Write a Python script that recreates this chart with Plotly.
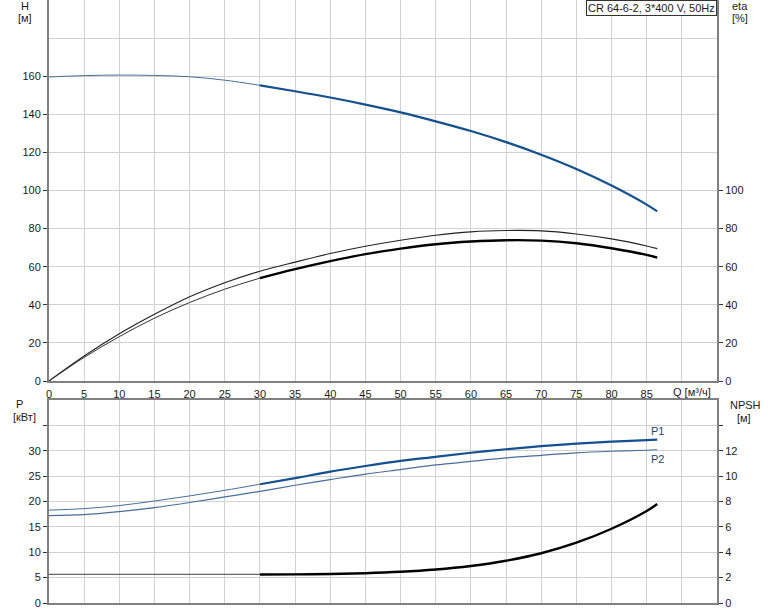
import plotly.graph_objects as go

# ---- data ----
Q = [0, 5, 10, 15, 20, 25, 30, 35, 40, 45, 50, 55, 60, 65, 70, 75, 80, 85, 86.5]
H = [159.6, 160.3, 160.6, 160.4, 159.7, 157.9, 155.2, 152.1, 148.8, 145.1, 141.0,
     136.3, 131.2, 125.4, 118.8, 111.3, 102.6, 92.6, 89.0]
ETA_PUMP = [0, 13.1, 24.8, 35.0, 44.2, 51.6, 57.6, 62.4, 66.9, 70.7, 73.9, 76.5,
            78.3, 79.0, 78.8, 77.2, 74.6, 70.9, 69.5]
ETA_TOTAL = [0, 12.4, 23.3, 33.0, 41.2, 48.2, 54.0, 58.7, 62.9, 66.6, 69.5, 71.8,
             73.2, 73.9, 73.7, 72.3, 69.7, 66.2, 64.8]
P1 = [18.3, 18.6, 19.2, 20.1, 21.1, 22.2, 23.4, 24.6, 25.9, 27.0, 28.0, 28.8,
      29.6, 30.3, 30.9, 31.4, 31.8, 32.1, 32.2]
P2 = [17.2, 17.4, 18.0, 18.8, 19.8, 20.9, 22.0, 23.2, 24.3, 25.4, 26.3, 27.2,
      27.9, 28.6, 29.1, 29.6, 29.9, 30.1, 30.2]
NPSH = [2.25, 2.25, 2.25, 2.25, 2.25, 2.25, 2.25, 2.26, 2.29, 2.35, 2.46, 2.64,
        2.92, 3.33, 3.92, 4.75, 5.85, 7.25, 7.8]

X_TICKS = list(range(0, 90, 5))
H_TICKS = list(range(0, 180, 20))
ETA_TICKS = list(range(0, 120, 20))
P_TICKS = list(range(0, 40, 5))
P_TICKTEXT = [str(v) for v in P_TICKS[:-1]] + [""]
NPSH_TICKS = list(range(0, 16, 2))
NPSH_TICKTEXT = [str(v) for v in NPSH_TICKS[:-1]] + [""]
TITLE = "CR 64-6-2, 3*400 V, 50Hz"

SPLIT = Q.index(30)

BLUE = "#12508f"
BLUE_THIN = "#4a6d9c"
GRID = "#d2d2d2"
AXIS = "#808080"
TXT = "#1a1a1a"
FONT = "Liberation Sans"

fig = go.Figure()

def add(x, y, xa, ya, color, width):
    fig.add_trace(go.Scatter(x=x, y=y, xaxis=xa, yaxis=ya, mode="lines",
                             line=dict(color=color, width=width, shape="spline",
                                       smoothing=1.0),
                             hoverinfo="skip", showlegend=False))

# H curve
add(Q[:SPLIT + 1], H[:SPLIT + 1], "x", "y", BLUE_THIN, 1)
add(Q[SPLIT:], H[SPLIT:], "x", "y", BLUE, 2.2)
# efficiency curves
add(Q, ETA_PUMP, "x", "y2", "#222222", 1.1)
add(Q[:SPLIT + 1], ETA_TOTAL[:SPLIT + 1], "x", "y2", "#333333", 1)
add(Q[SPLIT:], ETA_TOTAL[SPLIT:], "x", "y2", "#000000", 2.4)
# power curves
add(Q[:SPLIT + 1], P1[:SPLIT + 1], "x2", "y3", BLUE_THIN, 1)
add(Q[SPLIT:], P1[SPLIT:], "x2", "y3", BLUE, 2.2)
add(Q, P2, "x2", "y3", BLUE_THIN, 1.2)
# NPSH
add(Q[:SPLIT + 1], NPSH[:SPLIT + 1], "x2", "y4", "#666666", 1.2)
add(Q[SPLIT:], NPSH[SPLIT:], "x2", "y4", "#000000", 2.4)

L, R, T, B = 49, 717.5, 0, 603
W, HGT = 774, 611
TOP_BOTTOM_PX = 381
BOT_TOP_PX = 400
pw = R - L
ph = B - T

def px(xp):
    return (xp - L) / pw

def py(yp):
    return (B - yp) / ph

tickfont = dict(family=FONT, size=11, color=TXT)

common_x = dict(range=[0, 95], tickvals=X_TICKS, ticks="", showgrid=True,
                gridcolor=GRID, gridwidth=1, zeroline=False, showline=True,
                linecolor=AXIS, linewidth=2, tickfont=tickfont, automargin=False,
                minor=dict(dtick=5, tick0=0, showgrid=True, gridcolor=GRID, ticks=""))

fig.update_layout(
    width=W, height=HGT,
    margin=dict(l=L, r=W - R, t=T, b=HGT - B, autoexpand=False),
    paper_bgcolor="white", plot_bgcolor="white",
    showlegend=False,
    font=dict(family=FONT, size=11, color=TXT),
    xaxis=dict(common_x, domain=[0, 1], anchor="y", ticklabelstandoff=2),
    xaxis2=dict(common_x, domain=[0, 1], anchor="y3", matches="x",
                showticklabels=False, mirror=True),
    yaxis=dict(domain=[py(TOP_BOTTOM_PX), 1], range=[0, 200], tickvals=H_TICKS,
               ticks="outside", ticklen=4, tickcolor="#333", showgrid=True,
               gridcolor=GRID, zeroline=False, showline=True, linecolor=AXIS,
               linewidth=2, tickfont=tickfont, automargin=False,
               minor=dict(dtick=20, tick0=0, showgrid=True, gridcolor=GRID, ticks="")),
    yaxis2=dict(overlaying="y", side="right", anchor="x", range=[0, 200],
                tickvals=ETA_TICKS, ticks="outside", ticklen=4, tickcolor="#333",
                showgrid=False, zeroline=False, showline=True, linecolor=AXIS,
                linewidth=2, tickfont=tickfont, automargin=False),
    yaxis3=dict(domain=[0, py(BOT_TOP_PX)], anchor="x2", range=[0, 40],
                tickvals=P_TICKS, ticktext=P_TICKTEXT, ticks="outside", ticklen=4,
                tickcolor="#333", showgrid=True, gridcolor=GRID, zeroline=False,
                showline=True, linecolor=AXIS, linewidth=2, tickfont=tickfont,
                automargin=False),
    yaxis4=dict(overlaying="y3", side="right", anchor="x2", range=[0, 16],
                tickvals=NPSH_TICKS, ticktext=NPSH_TICKTEXT, ticks="outside",
                ticklen=4, tickcolor="#333", showgrid=False, zeroline=False,
                showline=True, linecolor=AXIS, linewidth=2, tickfont=tickfont,
                automargin=False),
)

def label(text, xp, yp, color=TXT, **kw):
    fig.add_annotation(text=text, xref="paper", yref="paper", x=px(xp), y=py(yp),
                       xanchor="center", yanchor="middle", showarrow=False,
                       font=dict(family=FONT, size=11, color=color), **kw)

label("H", 25, 6)
label("[м]", 25, 18)
label("eta", 741, 6)
label("[%]", 741, 18)
label("P", 19, 404)
label("[кВт]", 24, 417)
label("NPSH", 746, 405)
label("[м]", 745, 418)

fig.add_annotation(text="Q [м³/ч]", xref="paper", yref="paper", x=px(713),
                   y=py(392), xanchor="right", yanchor="middle", showarrow=False,
                   font=dict(family=FONT, size=11, color=TXT))

# box title
fig.add_annotation(text=TITLE, xref="paper", yref="paper", x=1, y=1,
                   xanchor="right", yanchor="top", showarrow=False,
                   bgcolor="white", bordercolor="#333333", borderwidth=1, borderpad=1,
                   font=dict(family=FONT, size=11, color=TXT))

# curve labels P1 / P2 at the end of the power curves
fig.add_annotation(text="P1", x=Q[-1], y=P1[-1], xref="x2", yref="y3",
                   xanchor="center", yanchor="bottom", yshift=1, showarrow=False,
                   font=dict(family=FONT, size=11, color="#23466e"))
fig.add_annotation(text="P2", x=Q[-1], y=P2[-1], xref="x2", yref="y3",
                   xanchor="center", yanchor="top", yshift=-1, showarrow=False,
                   font=dict(family=FONT, size=11, color="#23466e"))

fig.write_html("out.html",
               config={"displayModeBar": False},
               post_script="document.body.style.margin='0';"
                           "document.body.style.overflow='hidden';")
